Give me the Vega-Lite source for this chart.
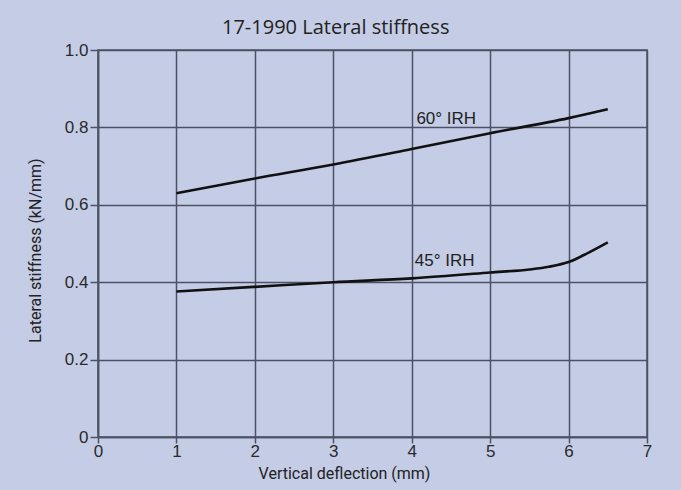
{
  "$schema": "https://vega.github.io/schema/vega-lite/v6.json",
  "autosize": {"type": "none"},
  "width": 549,
  "height": 387,
  "padding": {"left": 98, "top": 50, "right": 34, "bottom": 53},
  "background": "#c5cce6",
  "title": {
    "text": "17-1990 Lateral  stiffness",
    "anchor": "start",
    "frame": "group",
    "dx": 124,
    "offset": 3,
    "font": "Open Sans",
    "fontSize": 20,
    "fontWeight": "normal",
    "color": "#222222"
  },
  "config": {
    "view": {"stroke": "#4c5266", "strokeWidth": 1.5},
    "axis": {
      "gridColor": "#4c5266",
      "gridWidth": 1.5,
      "gridOpacity": 1,
      "domainColor": "#4c5266",
      "domainWidth": 1.5,
      "tickColor": "#4c5266",
      "tickWidth": 1.5,
      "labelFont": "Liberation Sans",
      "labelFontSize": 17,
      "labelColor": "#2a2a2a",
      "labelFlush": false,
      "titleFont": "Roboto",
      "titleFontSize": 16,
      "titleFontWeight": "normal",
      "titleColor": "#222222"
    }
  },
  "datasets": {
    "curves": [
      {"x": 1, "y": 0.630, "series": "60° IRH"},
      {"x": 2, "y": 0.668, "series": "60° IRH"},
      {"x": 3, "y": 0.704, "series": "60° IRH"},
      {"x": 4, "y": 0.744, "series": "60° IRH"},
      {"x": 5, "y": 0.785, "series": "60° IRH"},
      {"x": 6, "y": 0.824, "series": "60° IRH"},
      {"x": 6.5, "y": 0.847, "series": "60° IRH"},
      {"x": 1, "y": 0.376, "series": "45° IRH"},
      {"x": 2, "y": 0.388, "series": "45° IRH"},
      {"x": 3, "y": 0.400, "series": "45° IRH"},
      {"x": 4, "y": 0.410, "series": "45° IRH"},
      {"x": 5, "y": 0.425, "series": "45° IRH"},
      {"x": 5.5, "y": 0.433, "series": "45° IRH"},
      {"x": 5.75, "y": 0.440, "series": "45° IRH"},
      {"x": 6, "y": 0.452, "series": "45° IRH"},
      {"x": 6.25, "y": 0.476, "series": "45° IRH"},
      {"x": 6.5, "y": 0.503, "series": "45° IRH"}
    ],
    "labels": [
      {"x": 4.06, "y": 0.81, "label": "60° IRH"},
      {"x": 4.04, "y": 0.442, "label": "45° IRH"}
    ]
  },
  "layer": [
    {
      "data": {"name": "curves"},
      "mark": {"type": "line", "interpolate": "monotone", "color": "#111111", "strokeWidth": 2.6},
      "encoding": {
        "x": {
          "field": "x", "type": "quantitative",
          "scale": {"domain": [0, 7], "nice": false},
          "axis": {
            "values": [0, 1, 2, 3, 4, 5, 6, 7],
            "format": "d",
            "title": "Vertical deflection (mm)",
            "tickSize": 6,
            "labelPadding": 0,
            "titleX": 246,
            "titleY": 28,
            "titleBaseline": "top"
          }
        },
        "y": {
          "field": "y", "type": "quantitative",
          "scale": {"domain": [0, 1], "nice": false},
          "axis": {
            "values": [0, 0.2, 0.4, 0.6, 0.8, 1.0],
            "labelExpr": "datum.value == 0 ? '0' : format(datum.value, '.1f')",
            "title": "Lateral stiffness (kN/mm)",
            "tickSize": 8,
            "labelPadding": 2,
            "titleX": -63,
            "titleY": 200,
            "titleAngle": -90,
            "titleBaseline": "middle"
          }
        },
        "detail": {"field": "series"}
      }
    },
    {
      "data": {"name": "labels"},
      "mark": {"type": "text", "align": "left", "baseline": "alphabetic", "font": "Liberation Sans", "fontSize": 17, "color": "#222222"},
      "encoding": {
        "x": {"field": "x", "type": "quantitative"},
        "y": {"field": "y", "type": "quantitative"},
        "text": {"field": "label"}
      }
    }
  ]
}
